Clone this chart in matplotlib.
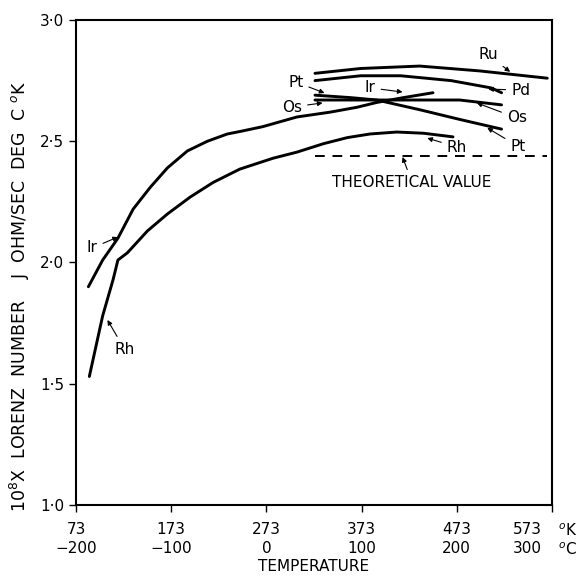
import matplotlib
matplotlib.use("Agg")
import matplotlib.pyplot as plt
from matplotlib.transforms import ScaledTranslation

# temperatures in deg K, values are 10^8 x Lorenz number
ir_temp = [86, 101, 117, 133, 151, 169, 190, 211, 232, 245, 269, 305, 340, 368, 389, 417, 448]
ir_val = [1.90, 2.01, 2.10, 2.22, 2.31, 2.39, 2.46, 2.50, 2.53, 2.54, 2.56, 2.60, 2.62, 2.64, 2.66, 2.68, 2.70]

rh_temp = [87, 101, 112, 117, 127, 148, 169, 193, 217, 245, 280, 305, 333, 358, 382, 410, 438, 469]
rh_val = [1.53, 1.78, 1.93, 2.01, 2.04, 2.13, 2.20, 2.27, 2.33, 2.385, 2.43, 2.455, 2.49, 2.515, 2.53, 2.538, 2.533, 2.518]

ru_temp = [324, 372, 434, 497, 568]
ru_val = [2.78, 2.80, 2.81, 2.79, 2.76]

pd_temp = [324, 372, 414, 467, 509, 520]
pd_val = [2.75, 2.77, 2.77, 2.75, 2.72, 2.70]

pt_temp = [324, 361, 389, 434, 476, 520]
pt_val = [2.69, 2.68, 2.67, 2.63, 2.59, 2.55]

os_temp = [324, 361, 427, 476, 520]
os_val = [2.67, 2.67, 2.67, 2.67, 2.65]

theory_temp = [324, 568]
theory_val = [2.44, 2.44]

k_ticks = [73, 173, 273, 373, 473, 573]
c_ticks = ["\u2212200", "\u2212100", "0", "100", "200", "300"]
y_ticks = [1.0, 1.5, 2.0, 2.5, 3.0]

fig = plt.figure(figsize=(5.86, 5.81), dpi=100)
ax = fig.add_axes([0.1297, 0.1308, 0.8123, 0.8348])

for t, v in [(ir_temp, ir_val), (rh_temp, rh_val), (ru_temp, ru_val),
             (pd_temp, pd_val), (pt_temp, pt_val), (os_temp, os_val)]:
    ax.plot(t, v, color="black", lw=2.1, solid_capstyle="round", solid_joinstyle="round")
ax.plot(theory_temp, theory_val, color="black", lw=1.4, ls=(0, (5, 4)))

ax.set_xlim(73, 573)
ax.set_ylim(1.0, 3.0)
for s in ax.spines.values():
    s.set_linewidth(1.5)

ax.set_yticks(y_ticks)
ax.set_yticklabels([f"{v:.1f}".replace(".", "\u00b7") for v in y_ticks])
ax.set_xticks(k_ticks)
ax.set_xticklabels([f"{k}\n{c}" for k, c in zip(k_ticks, c_ticks)], linespacing=1.35)
ax.tick_params(direction="out", length=5, width=1.0, labelsize=11)
ax.tick_params(axis="x", pad=7)
# last tick label sits a bit left to leave room for the unit labels
lab = ax.get_xticklabels()[-1]
lab.set_transform(lab.get_transform() + ScaledTranslation(-0.25, 0, fig.dpi_scale_trans))

ax.text(1.012, -0.052, "$^o$K", transform=ax.transAxes, fontsize=11, va="center")
ax.text(1.012, -0.093, "$^o$C", transform=ax.transAxes, fontsize=11, va="center")

ax.set_xlabel("TEMPERATURE", fontsize=11, labelpad=2)
fig.text(0.034, 0.49, "10$^8$X  LORENZ  NUMBER    J  OHM/SEC  DEG  C $^o$K",
         rotation=90, ha="center", va="center", fontsize=12.5)

arrow = dict(arrowstyle="-|>", color="black", lw=0.8, mutation_scale=7, shrinkA=2, shrinkB=0)
notes = [
    ("Ru", (506, 2.856), (529, 2.786)),
    ("Pd", (540, 2.711), (506, 2.715)),
    ("Os", (536, 2.596), (494, 2.658)),
    ("Pt", (537, 2.480), (505, 2.555)),
    ("Rh", (473, 2.476), (442, 2.513)),
    ("Ir", (382, 2.720), (416, 2.703)),
    ("Pt", (304, 2.744), (334, 2.699)),
    ("Os", (300, 2.641), (332, 2.658)),
    ("Ir", (90, 2.060), (117, 2.105)),
    ("Rh", (124, 1.643), (106, 1.763)),
]
for name, xytext, xy in notes:
    ax.annotate(name, xy=xy, xytext=xytext, fontsize=11, ha="center", va="center",
                arrowprops=arrow)
ax.annotate("THEORETICAL VALUE", xy=(416, 2.435), xytext=(426, 2.33), fontsize=11,
            ha="center", va="center", arrowprops=arrow)

fig.savefig("out.png", dpi=100)
